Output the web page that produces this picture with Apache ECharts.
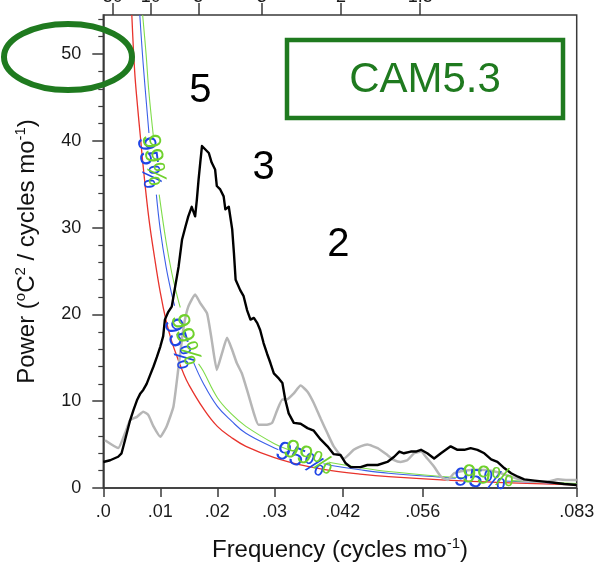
<!DOCTYPE html>
<html>
<head>
<meta charset="utf-8">
<script src="https://cdn.jsdelivr.net/npm/echarts@6/dist/echarts.min.js"></script>
<style>
  html, body { margin: 0; padding: 0; background: #fff; }
  #chart { width: 595px; height: 571px; }
</style>
</head>
<body>
<div id="chart"></div>
<script>
// Frequency axis ticks (cycles per month) and their labels
const freqTicks = [0, 0.01, 0.02, 0.03, 0.042, 0.056, 0.083];
const freqTickLabels = ['.0', '.01', '.02', '.03', '.042', '.056', '.083'];

// Period axis along the top (years)
const periodYears = [50, 10, 5, 3, 2, 1.5, 1];
const periodLabels = ['50', '10', '5', '3', '2', '1.5', '1'];

// Power axis ticks
const powerTicks = [0, 10, 20, 30, 40, 50];
const powerMinorTicks = [2, 4, 6, 8, 12, 14, 16, 18, 22, 24, 26, 28, 32, 34, 36, 38, 42, 44, 46, 48, 52, 54];

// CAM5.3 power spectrum [frequency, power]
const camSpectrum = [
  [0.0000, 3.0], [0.0012, 3.2], [0.0026, 3.6], [0.0032, 4.0], [0.0038, 5.5],
  [0.0047, 7.8], [0.0053, 9.0], [0.0059, 10.1], [0.0065, 10.9], [0.0070, 11.3],
  [0.0076, 12.0], [0.0082, 13.0], [0.0088, 14.0], [0.0094, 15.1], [0.0100, 16.3],
  [0.0105, 17.5], [0.0108, 19.4], [0.0114, 20.3], [0.0120, 20.9], [0.0126, 23.2],
  [0.0132, 25.5], [0.0138, 28.6], [0.0144, 30.1], [0.0149, 31.3], [0.0155, 32.4],
  [0.0161, 31.3], [0.0164, 33.2], [0.0167, 35.5], [0.0170, 37.5], [0.0173, 39.4],
  [0.0179, 39.0], [0.0185, 38.6], [0.0190, 37.5], [0.0196, 36.7], [0.0199, 34.8],
  [0.0205, 34.4], [0.0211, 33.6], [0.0214, 32.1], [0.0220, 32.4], [0.0226, 29.8],
  [0.0229, 27.1], [0.0232, 24.0], [0.0240, 22.8], [0.0246, 22.1], [0.0252, 20.5],
  [0.0258, 19.4], [0.0264, 19.6], [0.0270, 19.0], [0.0275, 18.2], [0.0281, 16.7],
  [0.0287, 15.5], [0.0293, 14.4], [0.0299, 13.2], [0.0308, 12.6], [0.0314, 12.1],
  [0.0319, 10.2], [0.0325, 8.6], [0.0334, 7.5], [0.0346, 7.4], [0.0358, 6.9],
  [0.0369, 6.6], [0.0381, 5.6], [0.0393, 4.8], [0.0404, 3.9], [0.0416, 3.8],
  [0.0425, 2.85], [0.0434, 2.4], [0.0451, 2.4], [0.0463, 2.65], [0.0481, 2.65],
  [0.0498, 3.0], [0.0510, 3.6], [0.0519, 4.2], [0.0527, 4.0], [0.0539, 4.2],
  [0.0548, 4.2], [0.0557, 4.4], [0.0568, 4.0], [0.0580, 3.4], [0.0592, 4.0],
  [0.0609, 4.8], [0.0621, 4.4], [0.0633, 4.4], [0.0644, 4.6], [0.0656, 4.4],
  [0.0668, 4.0], [0.0680, 3.3], [0.0691, 3.0], [0.0703, 2.3], [0.0715, 1.7],
  [0.0727, 1.3], [0.0738, 1.0], [0.0756, 0.85], [0.0773, 0.73], [0.0791, 0.61],
  [0.0808, 0.46], [0.0830, 0.35]
];

// Observed power spectrum [frequency, power]
const obsSpectrum = [
  [0.0003, 5.5], [0.0026, 4.6], [0.0038, 6.3], [0.0047, 7.8], [0.0059, 8.2],
  [0.0070, 8.8], [0.0079, 8.4], [0.0088, 7.1], [0.0100, 5.9], [0.0111, 7.1],
  [0.0123, 9.4], [0.0132, 14.0], [0.0141, 18.6], [0.0149, 20.9], [0.0161, 22.3],
  [0.0170, 21.3], [0.0182, 20.1], [0.0190, 17.1], [0.0199, 13.6], [0.0208, 15.5],
  [0.0217, 17.3], [0.0226, 15.9], [0.0234, 14.4], [0.0243, 13.2], [0.0252, 11.3],
  [0.0264, 8.6], [0.0272, 7.3], [0.0287, 7.3], [0.0296, 7.5], [0.0305, 9.0],
  [0.0314, 10.2], [0.0322, 10.2], [0.0334, 10.9], [0.0346, 11.8], [0.0358, 11.1],
  [0.0369, 9.8], [0.0381, 8.0], [0.0393, 6.3], [0.0404, 4.8], [0.0422, 3.4],
  [0.0439, 4.4], [0.0451, 4.8], [0.0463, 5.0], [0.0481, 4.6], [0.0498, 3.8],
  [0.0510, 3.2], [0.0521, 3.0], [0.0533, 3.2], [0.0545, 4.0], [0.0557, 4.2],
  [0.0568, 3.4], [0.0580, 2.45], [0.0592, 1.3], [0.0604, 0.92], [0.0615, 1.7],
  [0.0633, 2.0], [0.0656, 2.1], [0.0680, 2.0], [0.0697, 1.7], [0.0715, 1.3],
  [0.0732, 0.92], [0.0756, 0.73], [0.0779, 0.73], [0.0797, 1.0], [0.0814, 0.92],
  [0.0830, 0.92]
];

// Red-noise background spectrum
const redNoise = [
  [0.0050, 54.5], [0.0055, 48.0], [0.0060, 44.0], [0.0065, 40.5], [0.0070, 37.0],
  [0.0080, 31.0], [0.0090, 26.5], [0.0100, 22.5], [0.0110, 19.3], [0.0120, 16.9],
  [0.0130, 15.0], [0.0140, 13.3], [0.0150, 11.9], [0.0175, 9.2], [0.0200, 7.1],
  [0.0225, 5.8], [0.0250, 4.8], [0.0300, 3.5], [0.0350, 2.6], [0.0400, 2.0],
  [0.0450, 1.6], [0.0500, 1.3], [0.0600, 0.9], [0.0700, 0.62], [0.0830, 0.35]
];

// 95% confidence bound (gaps where the curve is labelled)
const conf95 = [
  [0.0064, 54.5], [0.0070, 48.8], [0.0080, 40.9], [0.0085, '-'], [0.0093, 33.8],
  [0.0100, 29.7], [0.0110, 25.5], [0.0120, 22.3], [0.0125, 21.0], [0.0140, '-'],
  [0.0158, 14.5], [0.0175, 12.1], [0.0200, 9.4], [0.0225, 7.7], [0.0250, 6.3],
  [0.0300, 4.6], [0.0307, 4.4], [0.0350, '-'], [0.0386, 2.8], [0.0400, 2.6],
  [0.0450, 2.1], [0.0500, 1.7], [0.0600, 1.2], [0.0618, 1.13], [0.0660, '-'],
  [0.0702, 0.81], [0.0830, 0.46]
];

// 99% confidence bound (gaps where the curve is labelled)
const conf99 = [
  [0.0069, 54.5], [0.0075, 50.0], [0.0080, 45.6], [0.0088, 40.4], [0.0093, '-'],
  [0.0098, 33.8], [0.0110, 28.4], [0.0120, 24.8], [0.0130, 22.0], [0.0135, 20.8],
  [0.0150, '-'], [0.0167, 14.3], [0.0175, 13.5], [0.0200, 10.4], [0.0225, 8.5],
  [0.0250, 7.1], [0.0300, 5.1], [0.0325, 4.4], [0.0360, '-'], [0.0395, 3.0],
  [0.0400, 2.9], [0.0450, 2.35], [0.0500, 1.9], [0.0600, 1.3], [0.0632, 1.18],
  [0.0670, '-'], [0.0715, 0.85], [0.0830, 0.51]
];

// Where the confidence curves carry their labels
const conf95LabelAt = [[0.00786, 37.5], [0.01313, 16.6], [0.03457, 3.23], [0.06603, 0.92]];
const conf99LabelAt = [[0.00873, 37.8], [0.01436, 17.1], [0.03598, 3.46], [0.06743, 1.27]];

// Period annotations placed over the spectrum
const periodMarkText = ['5', '3', '2'];
const periodMarkAt = [[0.0170, 45.8], [0.0281, 36.9], [0.0412, 28.0]];

// ---- styling ----
const FONT = '"Liberation Sans", Arial, Helvetica, sans-serif';
const AXIS = '#3a3a3a';
const DARK_GREEN = '#1f7a1f';
const labelAngles = [-82, -73, -24, -5];

const periodFreqs = periodYears.map(y => 1 / (12 * y));
const powerMax = 54.5;

const chart = echarts.init(document.getElementById('chart'), null, { renderer: 'canvas' });

function curveLabels(points, text, color) {
  return {
    type: 'scatter',
    xAxisIndex: 0, yAxisIndex: 0,
    symbolSize: 0,
    silent: true,
    z: 10,
    itemStyle: { opacity: 1 },
    data: points.map((p, i) => ({ value: p, label: { rotate: labelAngles[i] } })),
    label: {
      show: true,
      position: 'inside',
      formatter: text,
      color: color,
      opacity: 1,
      textBorderWidth: 0,
      fontSize: 26,
      fontFamily: FONT
    }
  };
}

const supRich = {
  sup: { fontSize: 15, verticalAlign: 'top', lineHeight: 16, fontFamily: FONT, color: '#111' }
};

const option = {
  backgroundColor: '#fff',
  animation: false,
  grid: {
    left: 103.3, right: 18.3, top: 15, bottom: 83,
    containLabel: false, outerBoundsMode: 'none',
    show: true, borderColor: AXIS, borderWidth: 1.5, backgroundColor: 'transparent'
  },
  xAxis: [
    {
      type: 'value', position: 'bottom', min: 0, max: 0.083,
      axisLine: { show: true, onZero: false, lineStyle: { color: AXIS, width: 1.5 } },
      axisTick: { show: true, customValues: freqTicks, length: 9, lineStyle: { color: AXIS, width: 1.5 } },
      axisLabel: {
        customValues: freqTicks,
        formatter: v => freqTickLabels[freqTicks.indexOf(v)] ?? '',
        fontSize: 18, color: '#1a1a1a', margin: 15, fontFamily: FONT
      },
      splitLine: { show: false },
      name: 'Frequency (cycles mo{sup|-1})',
      nameLocation: 'middle', nameGap: 48,
      nameTextStyle: { fontSize: 24, color: '#111', fontFamily: FONT, lineHeight: 28, rich: supRich }
    },
    {
      type: 'value', position: 'top', min: 0, max: 0.083,
      axisLine: { show: false, onZero: false },
      axisTick: { show: true, customValues: periodFreqs, length: 12, lineStyle: { color: AXIS, width: 1.5 } },
      axisLabel: {
        customValues: periodFreqs,
        formatter: v => {
          const i = periodFreqs.findIndex(f => Math.abs(f - v) < 1e-9);
          return i >= 0 ? periodLabels[i] : '';
        },
        fontSize: 18, color: '#1a1a1a', margin: 9, fontFamily: FONT
      },
      splitLine: { show: false }
    }
  ],
  yAxis: [
    {
      type: 'value', min: 0, max: powerMax, interval: 10,
      axisLine: { show: true, onZero: false, lineStyle: { color: AXIS, width: 1.5 } },
      axisTick: { show: true, customValues: powerTicks, length: 11, lineStyle: { color: AXIS, width: 1.5 } },
      axisLabel: { customValues: powerTicks, fontSize: 18, color: '#1a1a1a', margin: 22, fontFamily: FONT },
      splitLine: { show: false },
      name: 'Power ({sup|o}C{sup|2} / cycles mo{sup|-1})',
      nameLocation: 'middle', nameGap: 62, nameRotate: 90,
      nameTextStyle: { fontSize: 24, color: '#111', fontFamily: FONT, lineHeight: 28, rich: supRich }
    },
    {
      type: 'value', min: 0, max: powerMax, position: 'left',
      axisLine: { show: false, onZero: false },
      axisTick: { show: true, customValues: powerMinorTicks, length: 5, lineStyle: { color: AXIS, width: 1.2 } },
      axisLabel: { show: false },
      splitLine: { show: false }
    }
  ],
  series: [
    {
      name: 'red noise', type: 'line', data: redNoise, showSymbol: false, smooth: 0.4,
      silent: true, z: 2, lineStyle: { color: '#e8332c', width: 1.3 }
    },
    {
      name: '95%', type: 'line', data: conf95, showSymbol: false, smooth: 0.4, connectNulls: false,
      silent: true, z: 3, lineStyle: { color: '#3b5fe8', width: 1.1 }
    },
    {
      name: '99%', type: 'line', data: conf99, showSymbol: false, smooth: 0.4, connectNulls: false,
      silent: true, z: 3, lineStyle: { color: '#7fdc4a', width: 1.1 }
    },
    {
      name: 'observed', type: 'line', data: obsSpectrum, showSymbol: false, smooth: 0.15,
      silent: true, z: 4, lineStyle: { color: '#b6b6b6', width: 2.5 }
    },
    {
      name: 'CAM5.3', type: 'line', data: camSpectrum, showSymbol: false,
      silent: true, z: 5, lineStyle: { color: '#000', width: 2.4, join: 'round' }
    },
    curveLabels(conf95LabelAt, '95%', '#1f45e6'),
    curveLabels(conf99LabelAt, '99%', '#6fd12c'),
    {
      type: 'scatter', symbolSize: 0, silent: true, z: 10,
      itemStyle: { opacity: 1 },
      data: periodMarkAt.map((p, i) => ({ value: p, name: periodMarkText[i] })),
      label: {
        show: true, position: 'inside', formatter: p => p.name,
        fontSize: 40, color: '#000', opacity: 1, textBorderWidth: 0, fontFamily: FONT
      }
    }
  ],
  graphic: [
    {
      type: 'rect', z: 100, silent: true,
      shape: { x: 287, y: 40, width: 276, height: 78 },
      style: { fill: 'none', stroke: DARK_GREEN, lineWidth: 4.5 }
    },
    {
      type: 'text', z: 100, silent: true, x: 425, y: 80,
      style: {
        text: 'CAM5.3', fontSize: 42, fontFamily: FONT, fill: DARK_GREEN,
        align: 'center', verticalAlign: 'middle'
      }
    },
    {
      type: 'ellipse', z: 100, silent: true,
      shape: { cx: 68, cy: 57, rx: 64, ry: 33 },
      style: { fill: 'none', stroke: DARK_GREEN, lineWidth: 6 }
    }
  ]
};

chart.setOption(option);
</script>
</body>
</html>
